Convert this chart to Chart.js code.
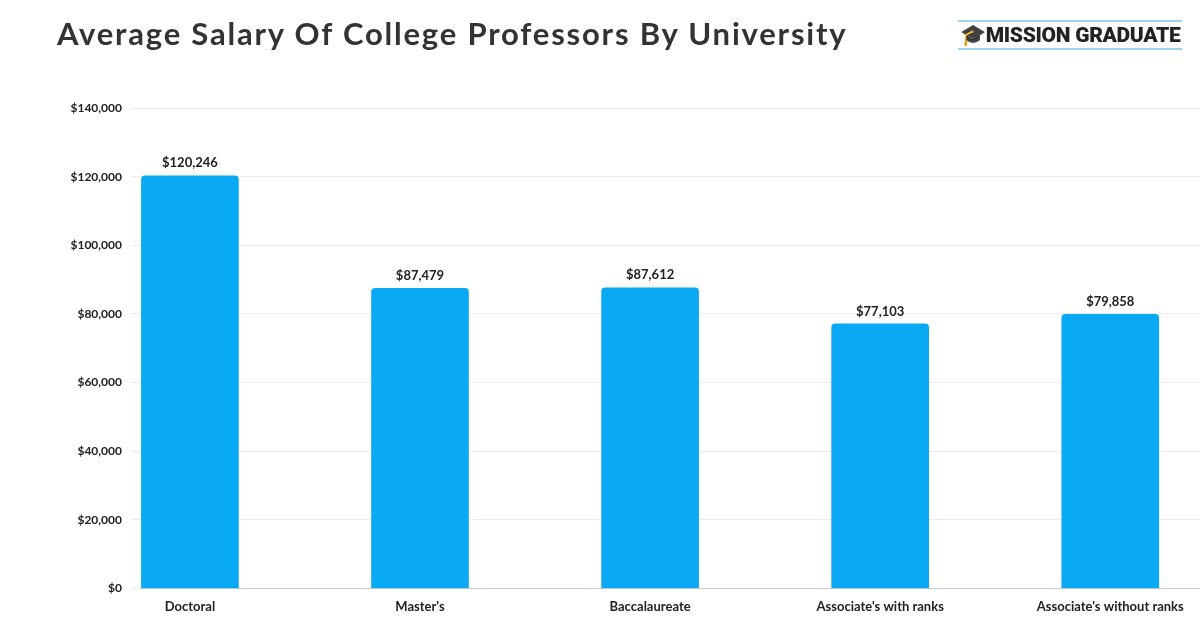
<!DOCTYPE html><html><head><script src="https://cdn.jsdelivr.net/npm/chart.js@4"></script>
<style>body{margin:0;width:1200px;height:628px;overflow:hidden;background:#fff;position:relative;font-family:Lato,sans-serif}
#t{position:absolute;left:57px;top:14px;font:bold 31px Lato,sans-serif;color:#333;letter-spacing:1.8px}
#logo{position:absolute;left:958px;top:20px;font:900 21px Roboto,sans-serif;color:#222;letter-spacing:-0.3px;border-top:2px solid #9fd3ef;border-bottom:2px solid #9fd3ef;padding:0 2px;line-height:26px;white-space:nowrap}
canvas{position:absolute;left:0;top:0}</style></head><body>
<canvas id="c" width="1200" height="628"></canvas>
<div id="t">Average Salary Of College Professors By University</div>
<div id="logo">🎓MISSION GRADUATE</div>
<script>
const categories=["Doctoral","Master's","Baccalaureate","Associate's with ranks","Associate's without ranks"];
const salaries=[120246,87479,87612,77103,79858];
const fmt=v=>'$'+v.toLocaleString('en-US');
const labelsPlugin={id:'lbl',afterDatasetsDraw(ch){const c=ch.ctx;c.save();c.font='bold 13px Lato';c.fillStyle='#222';c.textAlign='center';c.textBaseline='bottom';
ch.getDatasetMeta(0).data.forEach((b,i)=>c.fillText(fmt(salaries[i]),b.x,b.y-6));c.restore();}};
new Chart(document.getElementById('c'),{type:'bar',
data:{datasets:[{data:salaries.map((v,i)=>({x:i,y:v})),backgroundColor:'#0aa9f3',barThickness:97,borderRadius:{topLeft:4,topRight:4}}]},
options:{responsive:false,animation:false,layout:{padding:{top:108,right:0,bottom:10}},
plugins:{legend:{display:false},tooltip:{enabled:false}},
scales:{x:{type:'linear',offset:false,min:-0.217,max:4.39,grid:{display:false},border:{color:'#ccc'},
afterBuildTicks(s){s.ticks=categories.map((_,i)=>({value:i}));},
ticks:{autoSkip:false,maxRotation:0,callback:v=>categories[v],font:{size:13,weight:'bold',family:'Lato'},color:'#222'}},
y:{min:0,max:140000,afterFit(s){s.width=140;},ticks:{stepSize:20000,callback:v=>fmt(v),font:{size:12,weight:'bold',family:'Lato'},color:'#222',padding:10},grid:{color:'#ececec'},border:{display:false}}}},
plugins:[labelsPlugin]});
</script></body></html>
